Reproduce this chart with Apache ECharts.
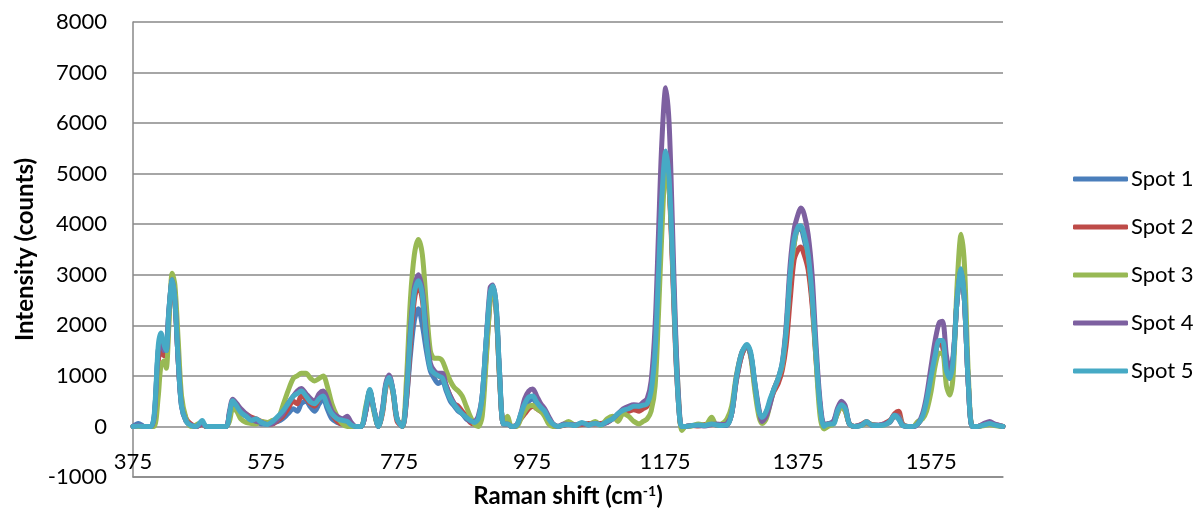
<!DOCTYPE html>
<html>
<head>
<meta charset="utf-8">
<script src="https://cdn.jsdelivr.net/npm/echarts@6/dist/echarts.min.js"></script>
<style>
  html, body { margin: 0; padding: 0; background: #fff; }
  #chart { width: 1198px; height: 513px; }
</style>
</head>
<body>
<div id="chart"></div>
<script>
// Raman shift positions (cm-1)
const xValues = [
  375, 383, 392, 402, 407, 413, 417, 422, 425, 429,
  434, 438, 443, 448, 455, 462, 470, 479, 485, 500,
  515, 520, 525, 531, 537, 545, 553, 560, 568, 577,
  585, 593, 600, 608, 616, 622, 628, 635, 642, 648,
  655, 661, 667, 674, 682, 690, 697, 703, 710, 718,
  725, 731, 737, 744, 750, 755, 760, 766, 772, 780,
  786, 792, 798, 804, 810, 816, 822, 828, 834, 840,
  846, 852, 858, 864, 870, 876, 882, 888, 894, 900,
  906, 912, 916, 921, 926, 932, 938, 944, 952, 958,
  964, 970, 976, 982, 988, 994, 1000, 1006, 1014, 1022,
  1030, 1040, 1050, 1060, 1070, 1078, 1088, 1096, 1104, 1112,
  1120, 1128, 1136, 1142, 1148, 1154, 1160, 1165, 1170, 1176,
  1181, 1186, 1191, 1196, 1200, 1206, 1215, 1225, 1235, 1245,
  1252, 1260, 1268, 1275, 1282, 1290, 1298, 1304, 1310, 1316,
  1321, 1327, 1333, 1339, 1345, 1351, 1357, 1363, 1369, 1375,
  1379, 1384, 1390, 1396, 1402, 1408, 1414, 1420, 1428, 1434,
  1440, 1446, 1452, 1460, 1470, 1478, 1486, 1496, 1505, 1513,
  1520, 1526, 1532, 1540, 1548, 1555, 1562, 1568, 1575, 1581,
  1587, 1592, 1598, 1603, 1608, 1614, 1620, 1625, 1631, 1637,
  1645, 1655, 1663, 1670, 1683
];

const spot1 = [
  0, 60, 0, 0, 200, 1500, 1750, 1500, 1550, 2300,
  2850, 2500, 1300, 400, 100, 30, 0, 50, 0, 0,
  0, 250, 480, 400, 280, 200, 150, 100, 50, 50,
  80, 100, 150, 250, 350, 300, 450, 500, 380, 300,
  450, 550, 350, 150, 80, 50, 100, 30, 0, 0,
  300, 700, 350, 0, 300, 800, 980, 700, 150, 0,
  500, 1400, 2100, 2330, 2000, 1500, 1100, 950, 850, 900,
  700, 500, 400, 300, 250, 150, 100, 50, 100, 600,
  1700, 2600, 2780, 2300, 1000, 50, 50, 0, 30, 200,
  400, 500, 550, 450, 350, 300, 150, 50, 0, 30,
  60, 20, 50, 30, 80, 40, 100, 150, 200, 300,
  350, 380, 350, 400, 450, 700, 1500, 3000, 4500, 5300,
  4800, 3300, 1500, 300, -20, 0, 20, 30, 20, 60,
  30, 20, 20, 250, 900, 1400, 1600, 1400, 800, 300,
  150, 250, 500, 750, 900, 1200, 1800, 2800, 3600, 3900,
  3900, 3700, 3300, 2500, 1400, 400, 0, 50, 100, 300,
  450, 350, 50, 0, 30, 80, 30, 20, 40, 80,
  200, 150, 20, 0, 0, 50, 200, 500, 1000, 1450,
  1650, 1600, 1100, 950, 1300, 2500, 3100, 2500, 800, 0,
  0, 30, 80, 30, 0
];

const spot2 = [
  0, 0, 0, 0, 150, 1300, 1500, 1400, 1400, 2200,
  2850, 2500, 1300, 450, 150, 50, 0, 40, 0, 0,
  0, 250, 480, 400, 300, 250, 180, 150, 100, 60,
  50, 120, 200, 350, 500, 450, 600, 550, 450, 400,
  550, 650, 450, 250, 100, 50, 50, 30, 0, 0,
  300, 700, 350, 0, 250, 750, 950, 650, 100, 0,
  500, 1600, 2500, 2800, 2500, 1700, 1200, 1050, 1000, 950,
  800, 600, 450, 400, 300, 200, 80, 50, 80, 400,
  1400, 2500, 2780, 2300, 1000, 50, 50, 0, 20, 150,
  250, 350, 400, 350, 300, 250, 150, 50, 0, 20,
  50, 30, 40, 60, 50, 60, 80, 150, 200, 280,
  300, 330, 300, 350, 400, 600, 1300, 2800, 4300, 5200,
  4700, 3200, 1400, 300, -20, 0, 20, 10, 40, 50,
  30, 30, 40, 250, 900, 1400, 1600, 1400, 800, 300,
  180, 280, 500, 700, 850, 1100, 1600, 2500, 3300, 3500,
  3550, 3400, 3100, 2400, 1300, 400, 0, 50, 80, 250,
  400, 300, 50, 0, 40, 100, 20, 20, 60, 120,
  250, 300, 50, 0, 0, 50, 200, 500, 1000, 1450,
  1650, 1600, 1100, 950, 1300, 2500, 3100, 2500, 800, 0,
  0, 50, 60, 40, 0
];

const spot3 = [
  0, 0, 0, 0, 0, 600, 1200, 1300, 1150, 2000,
  3030, 2800, 1700, 600, 150, 0, 30, 80, 0, 0,
  0, 100, 350, 300, 150, 80, 60, 50, 100, 80,
  120, 150, 400, 700, 950, 1000, 1050, 1050, 950, 900,
  950, 1000, 800, 450, 200, 50, 0, 0, 0, 0,
  400, 700, 300, 0, 300, 800, 950, 650, 150, 0,
  900, 2500, 3400, 3700, 3400, 2400, 1500, 1350, 1350, 1300,
  1100, 900, 770, 700, 600, 400, 200, 50, 0, 200,
  1300, 2500, 2750, 2300, 1000, 50, 200, 0, 0, 150,
  300, 400, 420, 350, 300, 200, 50, 0, 0, 40,
  100, 20, 60, 40, 100, 20, 150, 200, 100, 250,
  200, 100, 50, 100, 150, 300, 800, 2200, 3800, 5050,
  4700, 3400, 1700, 400, -80, 0, 10, 50, 20, 180,
  30, 50, 150, 400, 1000, 1450, 1600, 1350, 700, 200,
  60, 150, 450, 750, 950, 1200, 1900, 3000, 3600, 3950,
  3950, 3800, 3400, 2600, 1300, 200, -50, 0, 50, 250,
  400, 300, 50, 0, 20, 60, 40, 20, 30, 100,
  200, 200, 40, 0, 0, 100, 150, 300, 700, 1200,
  1450, 1450, 800, 620, 1000, 2800, 3800, 3200, 1000, 0,
  0, 20, 40, 20, 0
];

const spot4 = [
  0, 20, 0, 0, 200, 1500, 1700, 1500, 1500, 2300,
  2900, 2500, 1300, 400, 100, 30, 0, 60, 0, 0,
  0, 300, 540, 450, 350, 250, 150, 100, 80, 40,
  60, 150, 250, 450, 600, 700, 750, 650, 550, 500,
  650, 700, 550, 300, 200, 150, 200, 80, 0, 0,
  300, 700, 350, 0, 350, 850, 1020, 700, 150, 0,
  600, 1900, 2750, 3000, 2700, 1900, 1250, 1100, 1050, 1050,
  800, 600, 450, 350, 250, 180, 100, 100, 200, 600,
  1700, 2750, 2800, 2400, 1100, 50, 50, 0, 30, 250,
  550, 700, 740, 600, 450, 350, 200, 60, 0, 50,
  40, 30, 60, 40, 60, 40, 80, 150, 250, 350,
  400, 430, 420, 480, 550, 900, 2000, 3800, 5600, 6700,
  6000, 4000, 1800, 400, 0, 0, 20, 20, 10, 40,
  50, 40, 60, 250, 950, 1450, 1600, 1400, 850, 350,
  100, 200, 450, 750, 950, 1250, 2000, 3200, 3900, 4200,
  4320, 4200, 3800, 3000, 1600, 500, 50, 50, 100, 350,
  500, 400, 50, 0, 30, 80, 30, 30, 50, 100,
  220, 200, 30, 0, 0, 50, 250, 600, 1200, 1700,
  2050, 2080, 1400, 1100, 1400, 2500, 3100, 2500, 800, 0,
  0, 60, 100, 50, 0
];

const spot5 = [
  0, 10, 0, 0, 250, 1600, 1850, 1600, 1500, 2300,
  2900, 2500, 1300, 400, 100, 20, 0, 120, 0, 0,
  0, 250, 510, 400, 280, 200, 120, 150, 80, 40,
  100, 200, 300, 450, 600, 650, 700, 600, 480, 450,
  550, 600, 420, 250, 150, 120, 100, 30, 0, 0,
  350, 730, 350, 0, 300, 800, 970, 700, 150, 0,
  600, 1800, 2650, 2880, 2600, 1700, 1150, 1050, 1000, 960,
  750, 550, 430, 330, 250, 180, 120, 80, 150, 600,
  1700, 2650, 2780, 2400, 1100, 50, 50, 0, 30, 250,
  450, 580, 600, 480, 380, 300, 150, 50, 0, 30,
  40, 20, 80, 30, 60, 30, 100, 150, 250, 320,
  350, 400, 400, 420, 450, 700, 1500, 3000, 4500, 5450,
  4900, 3400, 1500, 300, 0, 0, 20, 30, 20, 50,
  30, 20, 30, 250, 950, 1450, 1620, 1450, 850, 300,
  180, 300, 550, 750, 950, 1250, 1900, 3000, 3700, 3950,
  3970, 3800, 3400, 2600, 1400, 400, 0, 50, 50, 300,
  430, 350, 50, 0, 20, 100, 20, 20, 30, 100,
  220, 150, 20, 0, 0, 50, 200, 500, 1000, 1400,
  1700, 1700, 1100, 950, 1300, 2500, 3120, 2500, 800, 0,
  0, 30, 60, 30, 0
];

const seriesNames = ['Spot 1', 'Spot 2', 'Spot 3', 'Spot 4', 'Spot 5'];
const xTickLabels = [375, 575, 775, 975, 1175, 1375, 1575];

const colors = ['#4A7EBB', '#BE4B48', '#98B954', '#7D60A0', '#46AAC5'];
const FONT = 'Lato, "Open Sans", sans-serif';
const GRID_GRAY = '#898989';

const allSpots = [spot1, spot2, spot3, spot4, spot5];

const chart = echarts.init(document.getElementById('chart'));

// plain numbers, no thousands separator
const plain = (v) => String(v);

const option = {
  animation: false,
  backgroundColor: '#fff',
  color: colors,
  textStyle: { fontFamily: FONT, color: '#000' },
  grid: { left: 133, top: 22, right: 195, bottom: 33, containLabel: false },
  legend: {
    orient: 'vertical',
    left: 1068,
    top: 163,
    itemWidth: 55,
    itemHeight: 5,
    itemGap: 26,
    icon: 'roundRect',
    textStyle: { fontFamily: FONT, fontSize: 22, color: '#000', padding: [0, 0, 0, -2] },
    data: seriesNames
  },
  xAxis: {
    type: 'value',
    min: 375,
    max: 1683,
    name: 'Raman shift (cm{sup|-1})',
    nameLocation: 'middle',
    nameGap: 7,
    nameTextStyle: {
      fontFamily: FONT, fontSize: 24, fontWeight: 'bold', color: '#000',
      verticalAlign: 'top',
      rich: {
        sup: { fontFamily: FONT, fontSize: 14, fontWeight: 'bold', verticalAlign: 'top', color: '#000' }
      }
    },
    axisLine: { onZero: false, lineStyle: { color: GRID_GRAY, width: 1.5 } },
    axisTick: { show: false },
    splitLine: { show: false },
    axisLabel: {
      inside: true,
      margin: 4,
      customValues: xTickLabels,
      formatter: plain,
      fontFamily: FONT,
      fontSize: 22,
      color: '#000'
    }
  },
  yAxis: {
    type: 'value',
    min: -1000,
    max: 8000,
    interval: 1000,
    name: 'Intensity (counts)',
    nameLocation: 'middle',
    nameGap: 96,
    nameTextStyle: { fontFamily: FONT, fontSize: 24, fontWeight: 'bold', color: '#000' },
    axisLine: { show: true, lineStyle: { color: GRID_GRAY, width: 1.5 } },
    axisTick: { show: false },
    splitLine: { lineStyle: { color: GRID_GRAY, width: 1.5 } },
    axisLabel: { margin: 26, formatter: plain, fontFamily: FONT, fontSize: 22, color: '#000' }
  },
  series: allSpots.map((vals, i) => ({
    name: seriesNames[i],
    type: 'line',
    data: vals.map((v, j) => [xValues[j], v]),
    showSymbol: false,
    smooth: 0.3,
    lineStyle: { width: 5, color: colors[i], cap: 'round', join: 'round' },
    itemStyle: { color: colors[i] },
    emphasis: { disabled: true }
  }))
};

chart.setOption(option);
</script>
</body>
</html>
